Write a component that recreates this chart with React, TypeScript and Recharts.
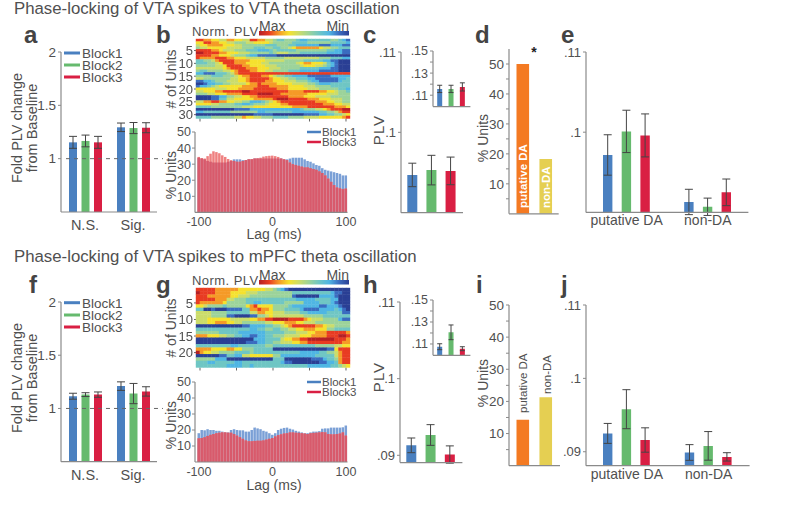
import React from "react";
import { BarChart, Bar, XAxis, YAxis, ErrorBar, Cell, ReferenceLine, ScatterChart, Scatter } from "recharts";

const FONT = "'Liberation Sans', Arial, sans-serif";
const TXT = "#505050";
const AX = "#8a8a8a";
const BLUE = "#4a80c0";
const GREEN = "#66ba6e";
const RED = "#d91f43";
const ORANGE = "#f47a22";
const YELLOW = "#e5cf52";
const LEVELS = ["#2a3f94", "#3a6cc0", "#4fb6e3", "#6fc6c4", "#9cd39a", "#cbdc6a", "#f5e12e", "#f59a27", "#e83b22", "#b41f25"];

// a / f : fold PLV change
const foldGroups = ["N.S.", "Sig."];
const aBlock1 = [1.153, 1.294]; const aErr1 = [0.056, 0.04];
const aBlock2 = [1.166, 1.287]; const aErr2 = [0.055, 0.052];
const aBlock3 = [1.153, 1.29]; const aErr3 = [0.056, 0.047];
const fBlock1 = [1.115, 1.21]; const fErr1 = [0.028, 0.04];
const fBlock2 = [1.13, 1.14]; const fErr2 = [0.018, 0.095];
const fBlock3 = [1.13, 1.16]; const fErr3 = [0.025, 0.044];

// c / h : PLV by block
const blockNames = ["Block1", "Block2", "Block3"];
const blockColors = [BLUE, GREEN, RED];
const cPlv = [0.0947, 0.0953, 0.0952]; const cPlvErr = [0.00146, 0.00184, 0.00172];
const cInset = [0.1157, 0.1157, 0.1175]; const cInsetErr = [0.0033, 0.0033, 0.0037];
const hPlv = [0.0913, 0.09265, 0.0901]; const hPlvErr = [0.00096, 0.00135, 0.00113];
const hInset = [0.1075, 0.1206, 0.1057]; const hInsetErr = [0.0027, 0.0067, 0.0018];

// d / i : % units
const typeNames = ["putative DA", "non-DA"];
const typeColors = [ORANGE, YELLOW];
const dUnits = [50, 18.3];
const iUnits = [14.3, 21.3];

// e / j : PLV by type
const typeBlock1E = [0.09716, 0.0913]; const typeErr1E = [0.00252, 0.00158];
const typeBlock2E = [0.1001, 0.0907]; const typeErr2E = [0.00264, 0.00108];
const typeBlock3E = [0.0996, 0.0925]; const typeErr3E = [0.00268, 0.00166];
const typeBlock1J = [0.0925, 0.0899]; const typeErr1J = [0.00136, 0.00107];
const typeBlock2J = [0.0958, 0.0908]; const typeErr2J = [0.00266, 0.00195];
const typeBlock3J = [0.0916, 0.0893]; const typeErr3J = [0.00166, 0.00057];

// b / g : % units over lag
const lagTicks = [-100, -50, 0, 50, 100];
const bHistBlock1 = [34, 33.5, 33, 32, 31.5, 31, 31, 31, 31, 31, 31.5, 32, 33, 33, 33, 32.5, 32.5, 33, 33, 33.5, 33.5, 33.5, 33.5, 33.5, 33.5, 33.5, 33.5, 33.5, 33.5, 33, 33, 33.5, 34, 34, 34, 34, 33, 32, 31.5, 30.5, 29.5, 29, 27.5, 26.5, 26, 25.5, 25, 24.5, 24, 23, 23];
const bHistBlock3 = [34.5, 33.8, 33.5, 35, 36.5, 38, 37.5, 36.8, 35.5, 34.5, 33.2, 32.5, 32, 31.5, 31.5, 32, 32.5, 33, 33.2, 33.5, 33.7, 34, 34.7, 35, 35.2, 35.3, 35, 34.5, 33.5, 33, 32.5, 31, 30, 29.5, 29, 28.5, 28, 28, 27.5, 27, 26.5, 25.5, 24.5, 23, 21, 19, 17, 15.5, 15, 14.5, 14.8];
const gHistBlock1 = [18, 20, 19.8, 20.5, 20, 20, 19.5, 19.5, 19, 18.5, 18.5, 20, 20.5, 20, 19.8, 19.8, 19, 19, 20, 21.5, 21, 20.5, 19.5, 19, 18, 17, 18, 20, 20.8, 21.3, 21.5, 20.8, 20.3, 19.5, 19, 18.5, 18, 18, 18.5, 19, 19, 19.3, 20.8, 21, 21, 21.5, 21.5, 21.5, 21.5, 21.7, 22.8];
const gHistBlock3 = [14.8, 15, 15.5, 16.3, 17, 17.5, 18, 18.3, 18.5, 18.5, 18.3, 18.3, 17.5, 16.5, 15.5, 14.5, 13.5, 13, 13, 13.2, 13.3, 13.3, 13.5, 14, 14.5, 15, 16, 16.8, 17.3, 17.8, 18, 18.5, 18.5, 18.3, 18.2, 18, 17.8, 17.5, 18, 18.2, 18.3, 18.5, 18.7, 18.5, 17.5, 17.3, 17.3, 17.5, 17.8, 18.5, 16.5];

// b / g heatmaps: one digit (0 = Min .. 9 = Max) per lag bin, one string per unit
const heatB = [
  "88776655776655887755" + "43344432233333344321",
  "66887766554445566665" + "44444333344444433332",
  "56677776665544444433" + "34443322222211122211",
  "45566666555544433344" + "33445677777765544333",
  "88887765554443332223" + "43333344444444332211",
  "99888877666555444443" + "45554443333333222211",
  "88887766654443221111" + "10000000000000000000",
  "87777888776665555544" + "44455555555544433322",
  "33445788887777666655" + "55544444333332211000",
  "33344568887776666554" + "44444456776665321000",
  "44444556888877666655" + "54444445666554321000",
  "55555556788887776665" + "55444443333322211000",
  "43344445567888776655" + "44443332222211111000",
  "22111333457888888888" + "88888888888888888888",
  "44443334445677888776" + "54433222211111122222",
  "55444444455667888887" + "66554433322111111223",
  "11223444555667888877" + "66655544432211111233",
  "00122334455556778777" + "76666555544322233333",
  "12234566666677778887" + "77776666555444433333",
  "66666555666777788888" + "87776666655544444332",
  "55666778888899888888" + "88887777888877665443",
  "44455666777788889999" + "88777777766666555444",
  "00001122445566778888" + "88887777666555544444",
  "00001133556666677777" + "89998888877766655544",
  "55778877665544222345" + "67888888888777665544",
  "66665544443322344456" + "66778888888887776655",
  "33334444444455566666" + "66666777788888887776",
  "00000000001111222222" + "22222223444556788899",
  "22333333344444442233" + "33333222222233445788",
  "00000000000000011111" + "00000000111122334456",
  "33334444445576655444" + "33334444555566666678",
];
const heatG = [
  "88888777777666666655" + "43210000000000000000",
  "98888777766665554444" + "44444333333333321100",
  "88877777766555444444" + "44444100000022221000",
  "88888777554443333333" + "33333322222333322000",
  "87777776444443322333" + "33344444222233321000",
  "66544443444446786666" + "44443222222211222100",
  "33001000111133778776" + "44433332111122223210",
  "55554444333333557766" + "55544443322222333311",
  "55554444110000114456" + "55555555444443333333",
  "55566666655555667788" + "99998888765554444211",
  "55566777665544444455" + "66677766555444444444",
  "00000000000011222233" + "44567888888776554444",
  "33333333333333223344" + "33445566777666443333",
  "44444433333222222233" + "33344455566777888887",
  "77766655443322112233" + "44455556667777888998",
  "00000000000000022233" + "33566778899999998887",
  "00000000000001112233" + "44555667788888888877",
  "33333333322333333344" + "33333333333444445566",
  "77776666776644433333" + "00000000000000116888",
  "97665544443333433333" + "33333332222233445788",
  "00000011332255666666" + "44222222222333335788",
  "44444222000000000000" + "33300000001112334788",
  "33322333332233333333" + "33211000000011223788",
  "33333333222233233333" + "33333333322222233456",
];

type Plot = { l: number; t: number; r: number; b: number };
const ML = 40, MT = 10, MR = 12, XH = 26;
const frame = (p: Plot) => ({
  style: { position: "absolute" as const, left: p.l - ML, top: p.t - MT },
  width: p.r - p.l + ML + MR,
  height: p.b - p.t + MT + XH,
  margin: { top: MT, right: MR, bottom: 0, left: 0 },
});
const plvFmt = (v: number) => String(v).replace("0.", ".");
const axisLine = { stroke: AX, strokeWidth: 1.2 };

function table(names: string[], cols: Record<string, number[]>) {
  return names.map((name, i) => {
    const row: any = { name };
    Object.keys(cols).forEach((k) => (row[k] = cols[k][i]));
    return row;
  });
}

function GroupPanel(props: any) {
  const { plot, data, domain, ticks, fmt, size, gap, fs, xfs, pad, dashed, tm, ts } = props;
  const f = frame(plot);
  const keys: [string, string, string][] = [["b1", "e1", BLUE], ["b2", "e2", GREEN], ["b3", "e3", RED]];
  return (
    <div style={f.style}>
      <BarChart width={f.width} height={f.height} margin={f.margin} data={data} barSize={size} barGap={gap}>
        <XAxis dataKey="name" height={XH} axisLine={axisLine} tickLine={false} padding={pad} tickMargin={tm} tickSize={ts}
          tick={{ fontSize: xfs, fill: TXT, fontFamily: FONT }} interval={0} />
        <YAxis type="number" width={ML} domain={domain} ticks={ticks} allowDataOverflow axisLine={axisLine}
          tickFormatter={fmt} tickSize={3} tickMargin={2} tickLine={{ stroke: AX }} interval={0}
          tick={{ fontSize: fs, fill: TXT, fontFamily: FONT }} />
        {keys.map(([k, e, c]) => (
          <Bar key={k} dataKey={k} fill={c} isAnimationActive={false}>
            <ErrorBar dataKey={e} width={4} stroke="#444" strokeWidth={1} isAnimationActive={false} />
          </Bar>
        ))}
        {dashed ? (
          <ReferenceLine y={1} shape={(p: any) => (
            <line x1={p.x1 + 5} x2={p.x2 + 6} y1={p.y1} y2={p.y2} stroke="#666" strokeDasharray="4 4" strokeWidth={1} />
          )} />
        ) : null}
      </BarChart>
    </div>
  );
}

function CellPanel(props: any) {
  const { plot, data, colors, domain, ticks, fmt, size, fs, pad, err } = props;
  const f = frame(plot);
  return (
    <div style={f.style}>
      <BarChart width={f.width} height={f.height} margin={f.margin} data={data} barSize={size}>
        <XAxis dataKey="name" height={XH} axisLine={axisLine} tickLine={false} tick={false} padding={pad} />
        <YAxis type="number" width={ML} domain={domain} ticks={ticks} allowDataOverflow axisLine={axisLine}
          tickFormatter={fmt} tickSize={3} tickMargin={2} tickLine={{ stroke: AX }} interval={0}
          tick={{ fontSize: fs, fill: TXT, fontFamily: FONT }} />
        <Bar dataKey="v" isAnimationActive={false}>
          {data.map((d: any, i: number) => <Cell key={d.name} fill={colors[i]} />)}
          {err ? <ErrorBar dataKey="e" width={err} stroke="#444" strokeWidth={1} isAnimationActive={false} /> : null}
        </Bar>
      </BarChart>
    </div>
  );
}

function Hist({ plot, b1, b3 }: { plot: Plot; b1: number[]; b3: number[] }) {
  const f = frame(plot);
  const data = b1.map((v, i) => ({ lag: -100 + i * 4, b1: v, b3: b3[i], both: Math.min(v, b3[i]) }));
  const s = 2.5;
  return (
    <div style={f.style}>
      <BarChart width={f.width} height={f.height} margin={f.margin} data={data} barSize={s} barGap={-s}>
        <XAxis dataKey="lag" height={XH} axisLine={axisLine} tickLine={false} ticks={lagTicks} interval={0} padding={{ left: 2.5, right: 0 }}
          tickMargin={0} tickSize={5} tick={{ fontSize: 12.5, fill: TXT, fontFamily: FONT }} />
        <YAxis type="number" width={ML} domain={[0, 50]} ticks={[10, 20, 30, 40, 50]} axisLine={axisLine}
          tickSize={3} tickMargin={1} tickLine={{ stroke: AX }} interval={0}
          tick={{ fontSize: 12.5, fill: TXT, fontFamily: FONT }} />
        <Bar dataKey="b1" fill="#7ba0d6" isAnimationActive={false} />
        <Bar dataKey="b3" fill="#ef8080" isAnimationActive={false} />
        <Bar dataKey="both" fill="#d85a6c" isAnimationActive={false} />
      </BarChart>
    </div>
  );
}

function Heat({ plot, rows, yTicks }: { plot: Plot; rows: string[]; yTicks: number[] }) {
  const f = frame(plot);
  const nCols = rows[0].length;
  const span = 211;
  const points = rows.flatMap((row, r) =>
    row.split("").map((ch, c) => ({ lag: -span / 2 + ((c + 0.5) * span) / nCols, unit: r + 1, level: Number(ch) }))
  );
  const w = (plot.r - plot.l) / nCols + 0.4;
  const h = (plot.b - plot.t) / rows.length + 0.4;
  return (
    <div style={{ ...f.style, filter: "blur(0.6px)" }}>
      <ScatterChart width={f.width} height={f.height} margin={f.margin}>
        <XAxis dataKey="lag" type="number" domain={[-span / 2, span / 2]} ticks={lagTicks} height={XH} axisLine={false}
          tickSize={3} tickLine={{ stroke: "#666" }} tickFormatter={() => ""} />
        <YAxis dataKey="unit" type="number" reversed width={ML} domain={[0.5, rows.length + 0.5]} ticks={yTicks} interval={0}
          axisLine={false} tickSize={2} tickMargin={1} tickLine={{ stroke: "#666" }}
          tick={{ fontSize: 13, fill: TXT, fontFamily: FONT }} />
        <Scatter data={points} isAnimationActive={false}
          shape={(p: any) => <rect x={p.cx - w / 2} y={p.cy - h / 2} width={w} height={h} fill={LEVELS[p.payload.level]} />} />
        <ReferenceLine x={0} stroke="#fff" strokeDasharray="3 2" strokeWidth={1.3} />
      </ScatterChart>
    </div>
  );
}

const T = ({ x, y, s, rot, a, c, w, ls, children }: any) => (
  <text x={x} y={y} fontSize={s} fill={c || TXT} fontWeight={w} letterSpacing={ls} textAnchor={a || "start"} fontFamily={FONT}
    transform={rot ? `rotate(-90 ${x} ${y})` : undefined}>{children}</text>
);

function Legend3({ x, ys }: { x: number; ys: number[] }) {
  return <>{blockNames.map((n, i) => (
    <g key={n}>
      <line x1={x} x2={x + 16} y1={ys[i]} y2={ys[i]} stroke={blockColors[i]} strokeWidth={3} />
      <T x={x + 18} y={ys[i] + 5} s={13.5}>{n}</T>
    </g>
  ))}</>;
}
function Legend2({ x, ys }: { x: number; ys: number[] }) {
  return <>{[0, 2].map((k, i) => (
    <g key={k}>
      <line x1={x} x2={x + 14} y1={ys[i]} y2={ys[i]} stroke={blockColors[k]} strokeWidth={2.5} />
      <T x={x + 15} y={ys[i] + 4} s={11.5}>{blockNames[k]}</T>
    </g>
  ))}</>;
}
function ColorBar({ y, id }: { y: number; id: string }) {
  return <>
    <defs>
      <linearGradient id={id}>
        {LEVELS.slice().reverse().map((c, i) => <stop key={c} offset={i / 9} stopColor={c} />)}
      </linearGradient>
    </defs>
    <rect x={259} y={y} width={90} height={4.5} fill={`url(#${id})`} />
    <T x={192} y={y + 5} s={13} ls={0.45}>Norm. PLV</T>
    <T x={259} y={y - 0.5} s={14}>Max</T>
    <T x={349} y={y - 0.5} s={14} a="end">Min</T>
  </>;
}
const Letter = ({ x, y, children }: any) => <T x={x} y={y} s={24} w="bold" c="#444">{children}</T>;

const groupData = (b1: number[], b2: number[], b3: number[], e1: number[], e2: number[], e3: number[], names: string[]) =>
  table(names, { b1, b2, b3, e1, e2, e3 });

export default function App() {
  const cellData = (names: string[], v: number[], e?: number[]) => table(names, e ? { v, e } : { v });
  const hide = (list: number[]) => (v: number) => (list.includes(v) ? "" : plvFmt(v));
  const tenths = (v: number) => (v % 10 === 0 ? String(v) : "");
  return (
    <div style={{ position: "absolute", left: 0, top: 0, width: 786, height: 506, overflow: "hidden", background: "#fff" }}>
      <GroupPanel plot={{ l: 61, t: 52, r: 157, b: 212 }} data={groupData(aBlock1, aBlock2, aBlock3, aErr1, aErr2, aErr3, foldGroups)}
        domain={[0.5, 2]} ticks={[1, 1.5, 2]} size={8} gap={4.5} fs={13.5} xfs={14.5} dashed tm={2} ts={6} />
      <GroupPanel plot={{ l: 61, t: 302.3, r: 157, b: 462 }} data={groupData(fBlock1, fBlock2, fBlock3, fErr1, fErr2, fErr3, foldGroups)}
        domain={[0.5, 2]} ticks={[1, 1.5, 2]} size={8} gap={4.5} fs={13.5} xfs={14.5} dashed tm={2} ts={6} />

      <Heat plot={{ l: 196, t: 38.5, r: 350, b: 118 }} rows={heatB} yTicks={[5, 10, 15, 20, 25, 30]} />
      <Heat plot={{ l: 196, t: 288, r: 350, b: 367.5 }} rows={heatG} yTicks={[5, 10, 15, 20]} />
      <Hist plot={{ l: 195, t: 132.3, r: 347.5, b: 212.7 }} b1={bHistBlock1} b3={bHistBlock3} />
      <Hist plot={{ l: 195, t: 382, r: 347.5, b: 462 }} b1={gHistBlock1} b3={gHistBlock3} />

      <CellPanel plot={{ l: 401, t: 52, r: 463, b: 212.7 }} data={cellData(blockNames, cPlv, cPlvErr)} colors={blockColors}
        domain={[0.09, 0.11]} ticks={[0.1, 0.11]} fmt={plvFmt} size={10} fs={13} pad={{ left: 1.3, right: 3.3 }} err={4} />
      <CellPanel plot={{ l: 433.3, t: 50.7, r: 470.7, b: 106.3 }} data={cellData(blockNames, cInset, cInsetErr)} colors={blockColors}
        domain={[0.0997, 0.15]} ticks={[0.11, 0.12, 0.13, 0.14, 0.15]} fmt={hide([0.12, 0.14])} size={5} fs={12.5} pad={{ left: 1.2, right: 2.2 }} err={2.5} />
      <CellPanel plot={{ l: 400.3, t: 301.7, r: 462.7, b: 462.3 }} data={cellData(blockNames, hPlv, hPlvErr)} colors={blockColors}
        domain={[0.08905, 0.11]} ticks={[0.09, 0.1, 0.11]} fmt={plvFmt} size={10} fs={13} pad={{ left: 1.3, right: 3.3 }} err={4} />
      <CellPanel plot={{ l: 433.3, t: 300, r: 470.7, b: 355.3 }} data={cellData(blockNames, hInset, hInsetErr)} colors={blockColors}
        domain={[0.0997, 0.15]} ticks={[0.11, 0.12, 0.13, 0.14, 0.15]} fmt={hide([0.12, 0.14])} size={5} fs={12.5} pad={{ left: 1.2, right: 2.2 }} err={2.5} />

      <CellPanel plot={{ l: 509, t: 48.5, r: 558.7, b: 213.3 }} data={cellData(typeNames, dUnits)} colors={typeColors}
        domain={[0, 55]} ticks={[5, 10, 15, 20, 25, 30, 35, 40, 45, 50]} fmt={tenths} size={12.6} fs={13.5} pad={{ left: 2.5, right: 1.3 }} />
      <CellPanel plot={{ l: 509, t: 305, r: 560, b: 465.7 }} data={cellData(typeNames, iUnits)} colors={typeColors}
        domain={[0, 50]} ticks={[5, 10, 15, 20, 25, 30, 35, 40, 45, 50]} fmt={tenths} size={12.6} fs={13.5} pad={{ left: 2.5, right: 2.6 }} />

      <GroupPanel plot={{ l: 586.3, t: 52.3, r: 748.7, b: 212.7 }} data={groupData(typeBlock1E, typeBlock2E, typeBlock3E, typeErr1E, typeErr2E, typeErr3E, typeNames)}
        domain={[0.09, 0.11]} ticks={[0.1, 0.11]} fmt={plvFmt} size={9.4} gap={9.3} fs={13} xfs={14} tm={0} ts={3} />
      <GroupPanel plot={{ l: 585.7, t: 305, r: 749.3, b: 465.7 }} data={groupData(typeBlock1J, typeBlock2J, typeBlock3J, typeErr1J, typeErr2J, typeErr3J, typeNames)}
        domain={[0.0881, 0.11]} ticks={[0.09, 0.1, 0.11]} fmt={plvFmt} size={9.4} gap={9.3} fs={13} xfs={14} tm={0} ts={3} />

      <svg width={786} height={506} style={{ position: "absolute", left: 0, top: 0, pointerEvents: "none" }}>
        <T x={14} y={14} s={16.8}>Phase-locking of VTA spikes to VTA theta oscillation</T>
        <T x={14} y={262} s={16.8}>Phase-locking of VTA spikes to mPFC theta oscillation</T>

        <Letter x={24} y={43}>a</Letter>
        <Letter x={156} y={43}>b</Letter>
        <Letter x={363} y={43}>c</Letter>
        <Letter x={475} y={43}>d</Letter>
        <Letter x={561} y={43}>e</Letter>
        <Letter x={29} y={293}>f</Letter>
        <Letter x={156} y={293}>g</Letter>
        <Letter x={363} y={293}>h</Letter>
        <Letter x={476} y={293}>i</Letter>
        <Letter x={561} y={293}>j</Letter>

        <Legend3 x={64} ys={[53, 65, 77]} />
        <Legend3 x={64} ys={[302.7, 315, 327]} />
        <Legend2 x={307} ys={[132, 142]} />
        <Legend2 x={307} ys={[382, 392]} />

        <T x={22} y={128} s={14.5} a="middle" rot>Fold PLV change</T>
        <T x={37} y={128} s={14.5} a="middle" rot>from Baseline</T>
        <T x={22} y={378} s={14.5} a="middle" rot>Fold PLV change</T>
        <T x={37} y={378} s={14.5} a="middle" rot>from Baseline</T>

        <ColorBar y={31} id="cbTop" />
        <ColorBar y={280} id="cbBottom" />
        <T x={176} y={79} s={14} a="middle" rot>{"# of Units"}</T>
        <T x={176} y={328} s={14} a="middle" rot>{"# of Units"}</T>
        <T x={176} y={175} s={14} a="middle" rot>% Units</T>
        <T x={176} y={425} s={14} a="middle" rot>% Units</T>
        <T x={274} y={239} s={14} a="middle">Lag (ms)</T>
        <T x={274} y={490} s={14} a="middle">Lag (ms)</T>

        <T x={384} y={130} s={15} a="middle" ls={1} rot>PLV</T>
        <T x={384} y={377} s={15} a="middle" ls={1} rot>PLV</T>

        <T x={488} y={138} s={14} a="middle" rot>% Units</T>
        <T x={488} y={383} s={14} a="middle" rot>% Units</T>
        <T x={534} y={57} s={14} w="bold" a="middle" c="#222">*</T>
        <T x={527} y={208} s={11.5} w="bold" c="#fff" rot>putative DA</T>
        <T x={550} y={208} s={11.5} w="bold" c="#fff" rot>non-DA</T>
        <T x={527} y={413} s={11.5} rot>putative DA</T>
        <T x={551} y={394} s={11.5} rot>non-DA</T>
      </svg>
    </div>
  );
}
